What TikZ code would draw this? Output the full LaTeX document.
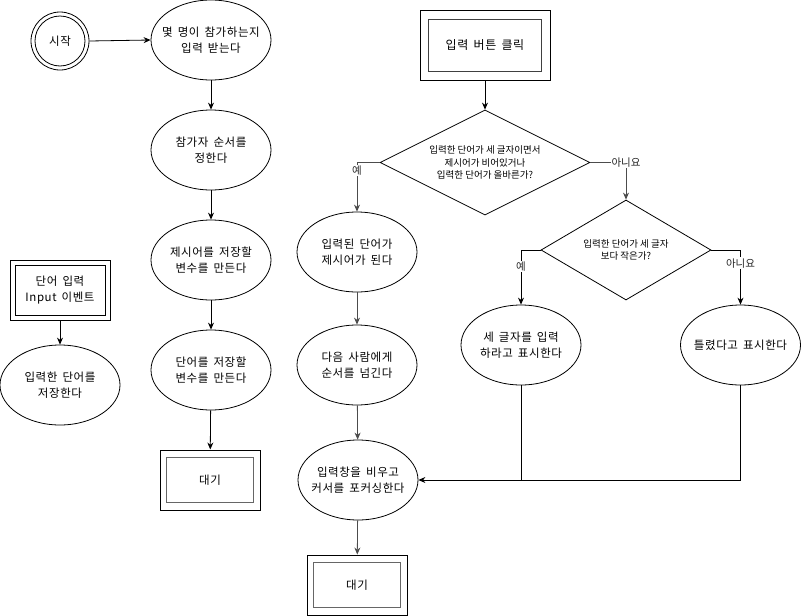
\documentclass[tikz,border=0pt]{standalone}
\usepackage{fontspec}
\setmainfont{Noto Sans CJK KR}
\newfontfamily\widefont[LetterSpace=5,WordSpace=1.6]{Noto Sans CJK KR}
\usetikzlibrary{shapes.geometric,arrows.meta}
\tikzset{
  ell/.style={ellipse, draw, line width=0.8pt, minimum width=120pt, minimum height=80pt, inner xsep=-14pt, inner ysep=0pt, align=center, font=\widefont\fontsize{11.5}{16}\selectfont},
  dbox/.style={draw, line width=1pt, inner sep=0pt, align=center, font=\widefont\fontsize{11.5}{16}\selectfont},
  dia/.style={diamond, draw, line width=0.8pt, inner sep=0pt, align=center, font=\fontsize{9.5}{12.5}\selectfont},
  conn/.style={line width=0.8pt, -{Stealth[length=7pt,width=6pt]}},
  gconn/.style={conn, draw=black!70},
  lbl/.style={fill=white, inner sep=1pt, font=\fontsize{10.5}{12}\selectfont, text=black!85}
}
\begin{document}
\begin{tikzpicture}[x=1pt,y=-1pt]
\useasboundingbox (0,0) rectangle (801,616);
% start
\node[circle, draw, line width=0.8pt, minimum size=58pt, inner sep=0pt, font=\widefont\fontsize{11.5}{16}\selectfont] (start) at (60,41) {시작};
\draw[line width=0.8pt] (start.center) circle (25);
% left column
\node[ell] (e1) at (211,40) {몇 명이 참가하는지\\입력 받는다};
\node[ell] (e2) at (211,150) {참가자 순서를\\정한다};
\node[ell] (e3) at (211,260) {제시어를 저장할\\변수를 만든다};
\node[ell] (e4) at (211,370) {단어를 저장할\\변수를 만든다};
\node[dbox, minimum width=100pt, minimum height=60pt] (w1) at (210,480) {대기};
\draw[line width=1.2pt, draw=black!60] ([shift={(7,8)}]w1.north west) rectangle ([shift={(-7,-8)}]w1.south east);
% input event
\node[dbox, minimum width=100pt, minimum height=60pt] (inb) at (60,290) {단어 입력\\Input 이벤트};
\draw[line width=1pt] ([shift={(5.5,6)}]inb.north west) rectangle ([shift={(-5.5,-5.5)}]inb.south east);
\node[ell] (e5) at (60,385) {입력한 단어를\\저장한다};
% right part
\node[dbox, minimum width=130pt, minimum height=70pt, font=\widefont\fontsize{12}{16}\selectfont] (tb) at (485,45) {입력 버튼 클릭};
\draw[line width=1.2pt, draw=black!75] ([shift={(9,10)}]tb.north west) rectangle ([shift={(-9,-9)}]tb.south east);
\node[dia, shape aspect=2, minimum width=210pt, minimum height=105pt] (d1) at (485,162.5) {입력한 단어가 세 글자이면서\\제시어가 비어있거나\\입력한 단어가 올바른가?};
\node[ell] (e6) at (357,252) {입력된 단어가\\제시어가 된다};
\node[ell] (e7) at (357,365) {다음 사람에게\\순서를 넘긴다};
\node[ell] (e8) at (358,480) {입력창을 비우고\\커서를 포커싱한다};
\node[dbox, minimum width=100pt, minimum height=60pt] (w2) at (357,585) {대기};
\draw[line width=1.2pt, draw=black!60] ([shift={(7,8)}]w2.north west) rectangle ([shift={(-7,-8)}]w2.south east);
\node[dia, shape aspect=1.7, minimum width=170pt, minimum height=100pt] (d2) at (626,250) {입력한 단어가 세 글자\\보다 작은가?};
\node[ell] (e9) at (521,345) {세 글자를 입력\\하라고 표시한다};
\node[ell] (e10) at (740.5,345) {틀렸다고 표시한다};
% connectors
\draw[conn] (start.east) -- (e1.west);
\draw[conn] (e1) -- (e2);
\draw[conn] (e2) -- (e3);
\draw[conn] (e3) -- (e4);
\draw[conn] (e4) -- (w1);
\draw[conn] (inb) -- (e5);
\draw[conn] (tb) -- (d1);
\draw[gconn] (d1.west) -| node[lbl, pos=0.58] {예} (e6.north);
\draw[gconn] (d1.east) -| node[lbl, pos=0.5] {아니요} (d2.north);
\draw[conn] (d2.west) -| node[lbl, pos=0.65] {예} (e9.north);
\draw[conn] (d2.east) -| node[lbl, pos=0.62] {아니요} (e10.north);
\draw[gconn] (e6) -- (e7);
\draw[gconn] (e7) -- (e8);
\draw[gconn] (e8) -- (w2);
\coordinate (join) at (e9.south |- e8.east);
\draw[line width=0.8pt] (e10.south) |- (join);
\draw[conn] (e9.south) |- (e8.east);
\end{tikzpicture}
\end{document}
